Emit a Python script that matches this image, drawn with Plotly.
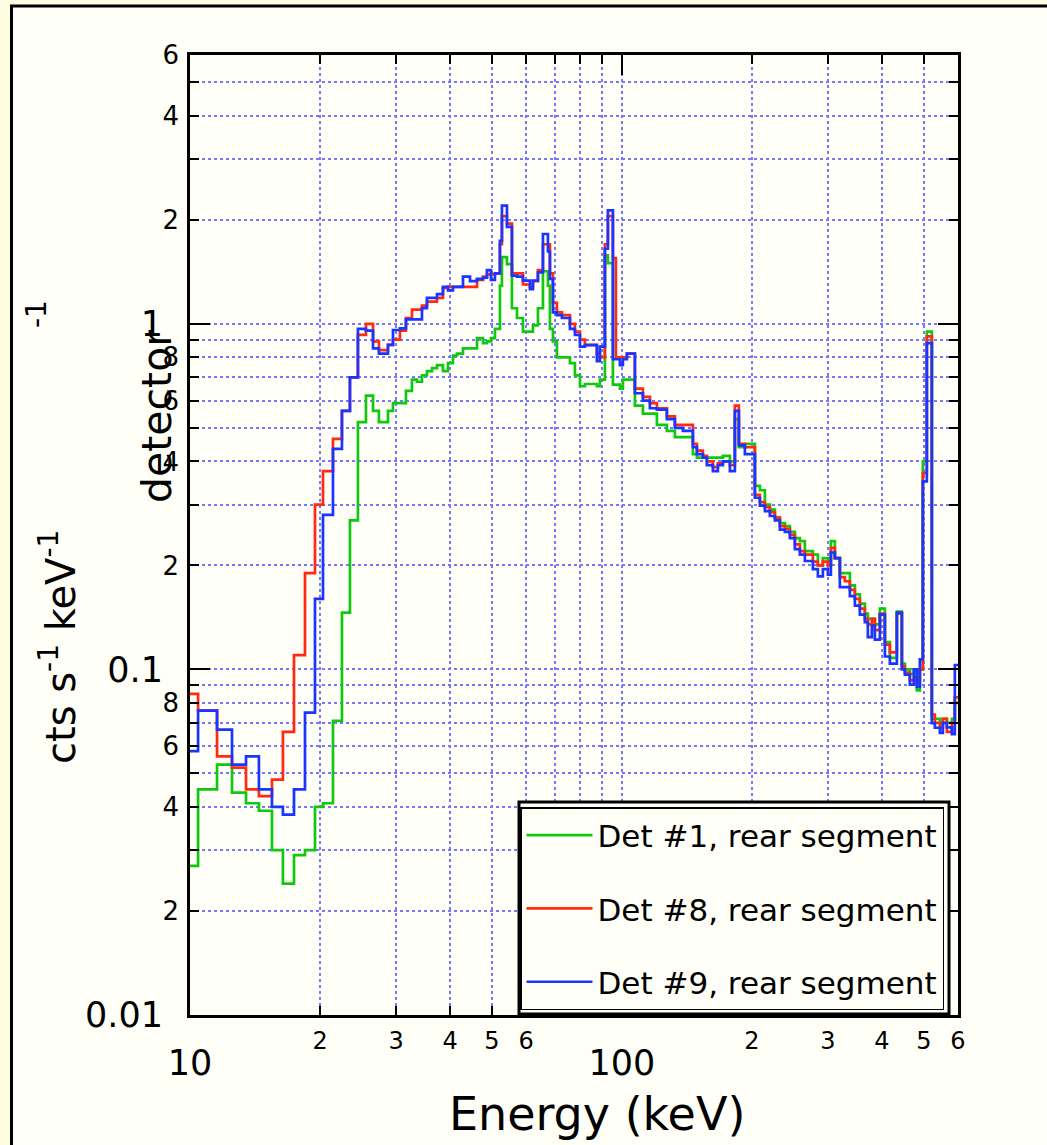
import math
import plotly.graph_objects as go

# Shared energy bin edges (keV)
edges = [10.00, 10.44, 11.55, 12.51, 13.48, 14.44, 15.48, 16.41, 17.41, 18.46,
         19.47, 20.32, 21.43, 22.48, 23.46, 24.48, 25.55, 26.53, 27.38, 28.73,
         29.51, 30.63, 31.62, 32.65, 33.53, 34.44, 35.37, 36.33, 37.31, 38.52,
         39.56, 40.63, 41.50, 42.86, 44.49, 46.18, 47.68, 48.70, 49.75, 50.82,
         52.19, 52.75, 54.18, 55.64, 57.15, 59.00, 61.24, 62.23, 63.91, 65.64,
         67.41, 68.13, 69.23, 70.72, 72.63, 75.80, 77.84, 79.95, 82.11, 87.52,
         88.93, 91.33, 92.81, 95.31, 96.85, 98.94, 100.53, 102.70, 107.17, 111.84,
         116.09, 120.50, 127.10, 132.64, 138.42, 146.00, 149.15, 153.99, 157.31, 162.42,
         166.81, 171.32, 177.83, 182.63, 186.57, 192.63, 203.18, 208.67, 214.30, 220.09,
         226.04, 232.14, 238.41, 244.84, 251.46, 258.25, 265.23, 276.79, 284.26, 291.94,
         299.83, 304.66, 311.23, 319.63, 328.27, 337.14, 346.24, 355.60, 365.17, 371.06,
         379.06, 385.18, 395.59, 406.29, 417.26, 433.13, 444.85, 452.02, 464.16, 474.17,
         481.81, 489.57, 497.47, 508.18, 521.93, 530.36, 544.71, 553.49, 565.41, 580.71,
         589.99, 612.0]

det1 = [0.027, 0.045, 0.053, 0.044, 0.041, 0.039, 0.030, 0.024, 0.029, 0.030,
        0.040, 0.041, 0.071, 0.146, 0.27, 0.52, 0.62, 0.56, 0.52, 0.56,
        0.59, 0.59, 0.64, 0.69, 0.68, 0.71, 0.73, 0.745, 0.76, 0.73,
        0.77, 0.81, 0.82, 0.85, 0.85, 0.91, 0.88, 0.89, 0.91, 0.967,
        1.29, 1.56, 1.49, 1.11, 1.04, 0.95, 0.95, 0.99, 1.11, 1.42,
        1.29, 0.967, 0.89, 0.80, 0.80, 0.77, 0.71, 0.66, 0.67, 0.66,
        0.69, 1.58, 1.50, 0.667, 0.667, 0.65, 0.69, 0.69, 0.58, 0.55,
        0.55, 0.51, 0.49, 0.47, 0.47, 0.42, 0.41, 0.41, 0.41, 0.41,
        0.41, 0.415, 0.40, 0.53, 0.44, 0.45, 0.34, 0.33, 0.30, 0.29,
        0.275, 0.265, 0.26, 0.25, 0.24, 0.235, 0.22, 0.215, 0.20, 0.21,
        0.205, 0.235, 0.21, 0.19, 0.19, 0.175, 0.165, 0.155, 0.145, 0.14,
        0.14, 0.135, 0.15, 0.12, 0.108, 0.147, 0.104, 0.10, 0.097, 0.10,
        0.087, 0.10, 0.40, 0.95, 0.072, 0.072, 0.070, 0.072, 0.070, 0.072,
        0.080]

det8 = [0.085, 0.076, 0.056, 0.052, 0.045, 0.043, 0.048, 0.066, 0.11, 0.19,
        0.30, 0.375, 0.465, 0.56, 0.70, 0.93, 1.00, 0.89, 0.84, 0.87,
        0.90, 0.956, 1.04, 1.10, 1.10, 1.13, 1.16, 1.16, 1.19, 1.27,
        1.28, 1.28, 1.28, 1.28, 1.28, 1.34, 1.37, 1.39, 1.39, 1.40,
        1.70, 2.05, 1.95, 1.40, 1.40, 1.30, 1.28, 1.33, 1.43, 1.70,
        1.70, 1.40, 1.15, 1.08, 1.06, 1.00, 0.95, 0.90, 0.87, 0.82,
        0.80, 1.70, 2.05, 1.55, 0.80, 0.80, 0.80, 0.82, 0.65, 0.615,
        0.59, 0.57, 0.54, 0.51, 0.51, 0.45, 0.43, 0.415, 0.40, 0.385,
        0.395, 0.40, 0.39, 0.58, 0.45, 0.44, 0.32, 0.305, 0.295, 0.285,
        0.275, 0.26, 0.255, 0.245, 0.23, 0.22, 0.215, 0.205, 0.20, 0.205,
        0.20, 0.225, 0.21, 0.185, 0.18, 0.17, 0.16, 0.15, 0.14, 0.135,
        0.14, 0.13, 0.145, 0.118, 0.112, 0.145, 0.102, 0.098, 0.093, 0.095,
        0.092, 0.10, 0.37, 0.92, 0.074, 0.070, 0.068, 0.072, 0.066, 0.070,
        0.083]

det9 = [0.058, 0.076, 0.067, 0.053, 0.056, 0.045, 0.040, 0.038, 0.045, 0.075,
        0.16, 0.28, 0.435, 0.56, 0.70, 0.967, 0.956, 0.85, 0.82, 0.87,
        0.96, 0.97, 1.03, 1.03, 1.03, 1.11, 1.19, 1.19, 1.22, 1.28,
        1.25, 1.28, 1.28, 1.37, 1.33, 1.35, 1.36, 1.43, 1.34, 1.40,
        1.74, 2.20, 1.91, 1.38, 1.37, 1.335, 1.26, 1.335, 1.41, 1.82,
        1.62, 1.35, 1.08, 1.06, 1.04, 0.967, 0.93, 0.86, 0.868, 0.78,
        0.86, 1.65, 2.13, 0.79, 0.79, 0.76, 0.79, 0.82, 0.63, 0.60,
        0.57, 0.565, 0.53, 0.50, 0.49, 0.44, 0.42, 0.41, 0.39, 0.375,
        0.39, 0.40, 0.375, 0.56, 0.445, 0.42, 0.314, 0.298, 0.287, 0.278,
        0.27, 0.254, 0.25, 0.24, 0.223, 0.215, 0.206, 0.195, 0.186, 0.195,
        0.188, 0.218, 0.21, 0.173, 0.173, 0.163, 0.153, 0.144, 0.137, 0.124,
        0.134, 0.122, 0.144, 0.109, 0.104, 0.146, 0.100, 0.0966, 0.0904, 0.100,
        0.089, 0.107, 0.35, 0.88, 0.0699, 0.0678, 0.0655, 0.070, 0.068, 0.065,
        0.103]

series_names = ["Det #1, rear segment", "Det #8, rear segment", "Det #9, rear segment"]
series_colors = ["#11C811", "#FF2A10", "#1A35FF"]

x_label_vals = [20, 30, 40, 50, 60, 200, 300, 400, 500, 600]
x_label_text = ["2", "3", "4", "5", "6", "2", "3", "4", "5", "6"]
x_unlabeled_vals = [70, 80, 90]
x_major_vals = [10, 100]
x_major_text = ["10", "100"]
y_label_vals = [0.02, 0.04, 0.06, 0.08, 0.2, 0.4, 0.6, 0.8, 2, 4, 6]
y_label_text = ["2", "4", "6", "8", "2", "4", "6", "8", "2", "4", "6"]
y_unlabeled_vals = [0.03, 0.05, 0.07, 0.09, 0.3, 0.5, 0.7, 0.9, 3, 5]
y_major_vals = [0.01, 0.1, 1]
y_major_text = ["0.01", "0.1", "1"]

W, H = 1047, 1145
L, R, T, B = 190, 958, 55, 1015
FONT = "DejaVu Sans"
CREAM = "#FFFFF7"
OUTER = "#FFFDE0"
GRID = "#7878FF"


def px_x(px):
    return (px - L) / (R - L)


def px_y(py):
    return (B - py) / (B - T)


fig = go.Figure()
for name, col, vals, grp in zip(series_names, series_colors, [det1, det8, det9], ["g1", "g2", "g3"]):
    fig.add_trace(go.Scatter(
        x=edges, y=vals + [vals[-1]], mode="lines", name=name,
        line=dict(color=col, width=2.7, shape="hv"), legendgroup=grp,
    ))

# helper trace so that the overlaid major-tick axes are drawn
fig.add_trace(go.Scatter(x=[10], y=[0.01], xaxis="x2", yaxis="y2", mode="markers",
                         marker=dict(opacity=0), showlegend=False, hoverinfo="skip"))

xr = [1, math.log10(600)]
yr = [-2, math.log10(6)]
common_font = dict(family=FONT, color="black")
grid_kw = dict(showgrid=True, gridcolor=GRID, griddash="dot", gridwidth=1.8)


def minor_kw(vals):
    return dict(tickmode="array", tickvals=vals, ticks="inside", ticklen=9, tickwidth=2,
                tickcolor="black", **grid_kw)


fig.update_layout(
    width=W, height=H, autosize=False,
    margin=dict(l=L, r=W - R, t=T, b=H - B, pad=0),
    paper_bgcolor=OUTER, plot_bgcolor=CREAM,
    showlegend=True,
    xaxis=dict(type="log", range=xr, showline=True, linecolor="black", linewidth=2.5,
               mirror="ticks", ticks="inside", ticklen=9, tickwidth=2, tickcolor="black",
               tickmode="array", tickvals=x_label_vals, ticktext=x_label_text,
               tickfont=dict(size=24, **common_font), ticklabelstandoff=2,
               minor=minor_kw(x_unlabeled_vals), zeroline=False, **grid_kw),
    xaxis2=dict(type="log", range=xr, overlaying="x", anchor="y2", side="bottom",
                showline=False, mirror="ticks", ticks="inside", ticklen=20, tickwidth=2,
                tickcolor="black", tickmode="array", tickvals=x_major_vals, ticktext=x_major_text,
                tickfont=dict(size=35, **common_font), ticklabelstandoff=24,
                zeroline=False, **grid_kw),
    yaxis=dict(type="log", range=yr, showline=True, linecolor="black", linewidth=2.5,
               mirror="ticks", ticks="inside", ticklen=9, tickwidth=2, tickcolor="black",
               tickmode="array", tickvals=y_label_vals, ticktext=y_label_text,
               tickfont=dict(size=26, **common_font), ticklabelstandoff=3,
               minor=minor_kw(y_unlabeled_vals), zeroline=False, **grid_kw),
    yaxis2=dict(type="log", range=yr, overlaying="y", anchor="x2", side="left",
                showline=False, mirror="ticks", ticks="inside", ticklen=20, tickwidth=2,
                tickcolor="black", tickmode="array", tickvals=y_major_vals, ticktext=y_major_text,
                tickfont=dict(size=35, **common_font), ticklabelstandoff=26,
                zeroline=False, **grid_kw),
    legend=dict(x=px_x(944), xanchor="right", y=px_y(1010), yanchor="bottom",
                bgcolor=CREAM, bordercolor="black", borderwidth=1.5,
                font=dict(size=31, **common_font), tracegroupgap=30, itemwidth=66,
                traceorder="grouped"),
    shapes=[
        dict(type="rect", xref="paper", yref="paper", layer="below",
             x0=px_x(11.5), x1=px_x(1120), y0=px_y(1220), y1=px_y(6),
             line=dict(color="black", width=3), fillcolor=CREAM),
        dict(type="rect", xref="paper", yref="paper", layer="above",
             x0=px_x(519), x1=px_x(949), y0=px_y(1014), y1=px_y(802),
             line=dict(color="black", width=3), fillcolor=CREAM),
    ],
    annotations=[
        dict(text="Energy (keV)", xref="paper", yref="paper", x=px_x(597), y=px_y(1114),
             xanchor="center", yanchor="middle", showarrow=False,
             font=dict(size=46, **common_font)),
        dict(text="cts s<sup>-1</sup> keV<sup>-1</sup>", xref="paper", yref="paper",
             x=px_x(58), y=px_y(647), xanchor="center", yanchor="middle", textangle=-90,
             showarrow=False, font=dict(size=40, **common_font)),
        dict(text="detector", xref="paper", yref="paper", x=px_x(157), y=px_y(417),
             xanchor="center", yanchor="middle", textangle=-90, showarrow=False,
             font=dict(size=41, **common_font)),
        dict(text="-1", xref="paper", yref="paper", x=px_x(36), y=px_y(314),
             xanchor="center", yanchor="middle", textangle=-90, showarrow=False,
             font=dict(size=28, **common_font)),
    ],
)

fig.write_html("out.html")
